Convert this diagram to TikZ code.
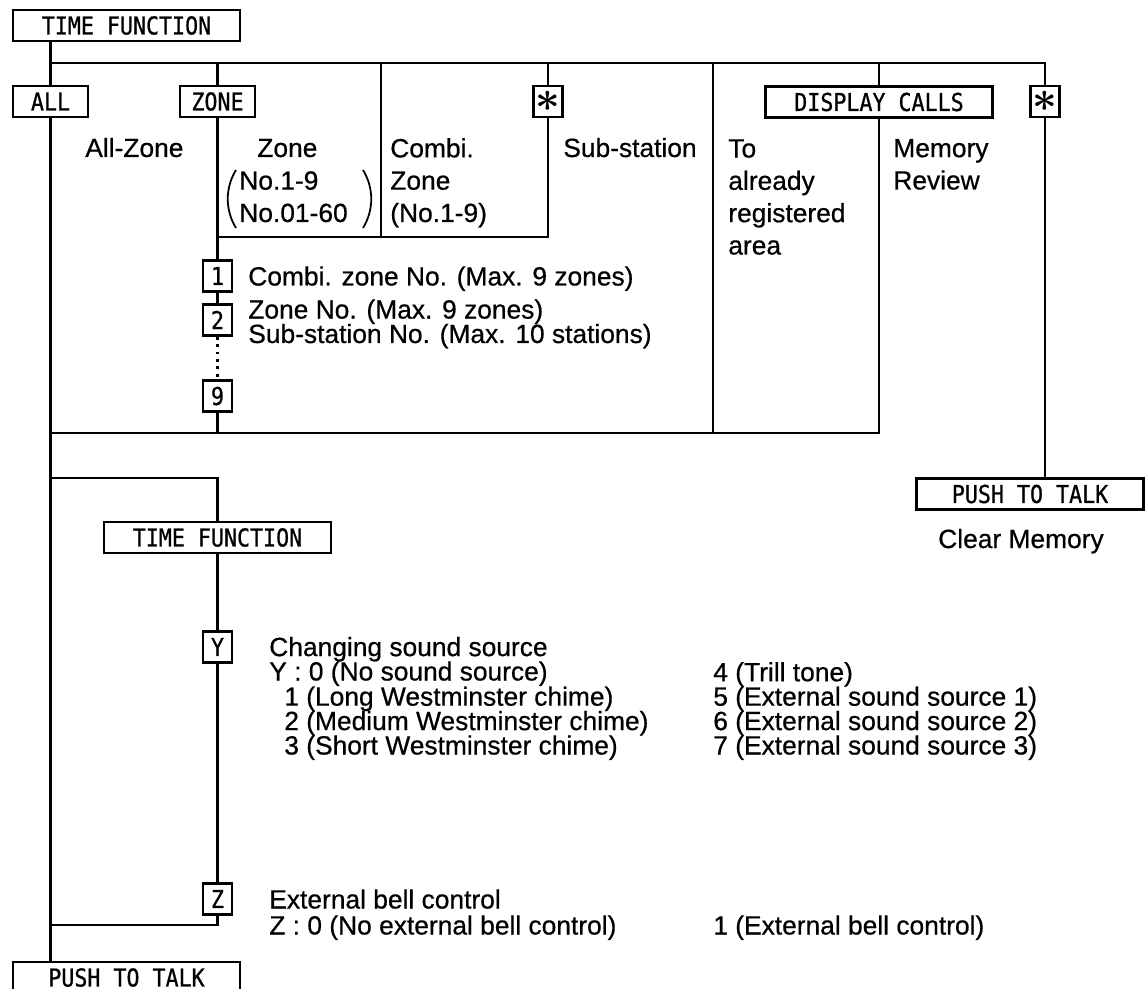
\documentclass[tikz,border=0pt]{standalone}
\usepackage{fontspec}
\setmainfont{Liberation Sans}[UprightFeatures={FakeBold=0.6}]
\newfontfamily\keyfont[FakeStretch=0.88,UprightFeatures={FakeBold=0.8}]{DejaVu Sans Mono}
\usepackage{tikz}

\newcommand{\lbl}{\fontsize{15}{18.4}\selectfont}
\newcommand{\lbltight}{\fontsize{15}{13.9}\selectfont\lineskiplimit=-20pt}
\newcommand{\keyf}{\keyfont\fontsize{14}{14}\selectfont}
\newcommand{\astkey}{\scalebox{1.7}{\boldmath$\ast$}}

\begin{document}
\begin{tikzpicture}[x=0.02cm, y=-0.02cm, line width=1.5pt,
  key/.style={draw, fill=white, font=\keyf, inner sep=0pt, minimum height=0.62cm},
  widekey/.style={key, minimum width=4.54cm},
  midkey/.style={key, minimum width=1.5cm},
  smallkey/.style={key, minimum width=0.58cm},
  txt/.style={anchor=base west, font=\lbl, align=left, inner sep=0pt},
  tighttxt/.style={txt, font=\lbltight}]

\useasboundingbox (0,0) rectangle (1148,989);

% keys
\node[widekey] (tf1) at (126.5,25.5) {TIME FUNCTION};
\node[midkey] (all) at (50.5,101.5) {ALL};
\node[midkey] (zone) at (217.5,101.5) {ZONE};
\node[smallkey] (starS) at (548,101.5) {\astkey};
\node[widekey] (disp) at (879,102) {DISPLAY CALLS};
\node[smallkey] (starR) at (1045,101.5) {\astkey};
\node[smallkey] (k1) at (217.5,276) {1};
\node[smallkey] (k2) at (217.5,320) {2};
\node[smallkey] (k9) at (217.5,396) {9};
\node[widekey] (tf2) at (217.5,537.5) {TIME FUNCTION};
\node[smallkey] (kY) at (217.5,647) {Y};
\node[smallkey] (kZ) at (217.5,899) {Z};
\node[widekey] (ptt1) at (126.5,977.5) {PUSH TO TALK};
\node[widekey] (ptt2) at (1030,494) {PUSH TO TALK};

% levels
\coordinate (bus) at (0,63);
\coordinate (cmb) at (0,237);
\coordinate (bot) at (0,433);
\coordinate (loopT) at (0,478);
\coordinate (loopB) at (0,925);
\coordinate (cdiv) at (381,0);
\coordinate (rdiv) at (713,0);

% upper part
\draw (tf1.south -| all) -- (all.north);
\draw (all |- bus) -- (starR |- bus) -- (starR.north);
\draw (zone |- bus) -- (zone.north);
\draw (cdiv |- bus) -- (cdiv |- cmb);
\draw (starS |- bus) -- (starS.north);
\draw (starS.south) -- (starS |- cmb) -- (zone |- cmb);
\draw (disp |- bus) -- (disp.north);
\draw (rdiv |- bus) -- (rdiv |- bot);
\draw (zone.south) -- (k1.north);
\draw (k1.south) -- (k2.north);
\draw[dash pattern=on 1.6pt off 2.6pt] (k2.south) -- (k9.north);
\draw (k9.south) -- (k9 |- bot);
\draw (all |- bot) -- (disp |- bot) -- (disp.south);
\draw (starR.south) -- (starR |- ptt2.north);

% lower part
\draw (all.south) -- (ptt1.north -| all);
\draw (all |- loopT) -- (tf2 |- loopT) -- (tf2.north);
\draw (tf2.south) -- (kY.north);
\draw (kY.south) -- (kZ.north);
\draw (kZ.south) -- (kZ |- loopB) -- (all |- loopB);

% texts (multi-line nodes sit on their last baseline)
\node[txt] (tAll) at (84,157) {All-Zone};
\node[txt] (tZone) at (256,157) {Zone};
\node[txt] (tZoneNo) at (238,222) {No.1-9\\No.01-60};
\draw[line width=1pt] (236,170) .. controls (225,188) and (225,210) .. (236,228);
\draw[line width=1pt] (363,170) .. controls (374,188) and (374,210) .. (363,228);
\node[txt] (tCombi) at (389,222) {Combi.\\Zone\\(No.1-9)};
\node[txt] (tSub) at (562,157) {Sub-station};
\node[txt] (tReg) at (727,254.5) {To\\already\\registered\\area};
\node[txt] (tMem) at (892,189.5) {Memory\\Review};

\node[tighttxt] (t1) at (247,285.5) {Combi. zone No. (Max. 9 zones)};
\node[tighttxt] (t2) at (247,343) {Zone No. (Max. 9 zones)\\Sub-station No. (Max. 10 stations)};

\node[txt, anchor=base] (tClr) at (1021,548) {Clear Memory};

\node[tighttxt] (tY) at (268,680.5) {Changing sound source\\Y : 0 (No sound source)};
\node[tighttxt] (tY1) at (283,754.5) {1 (Long Westminster chime)\\2 (Medium Westminster chime)\\3 (Short Westminster chime)};
\node[tighttxt] (tY2) at (712,754.5) {4 (Trill tone)\\5 (External sound source 1)\\6 (External sound source 2)\\7 (External sound source 3)};

\node[txt] (tZ) at (268,908.5) {External bell control};
\node[txt] (tZ0) at (268,934.5) {Z : 0 (No external bell control)};
\node[txt] (tZ1) at (712,934.5) {1 (External bell control)};

\end{tikzpicture}
\end{document}
